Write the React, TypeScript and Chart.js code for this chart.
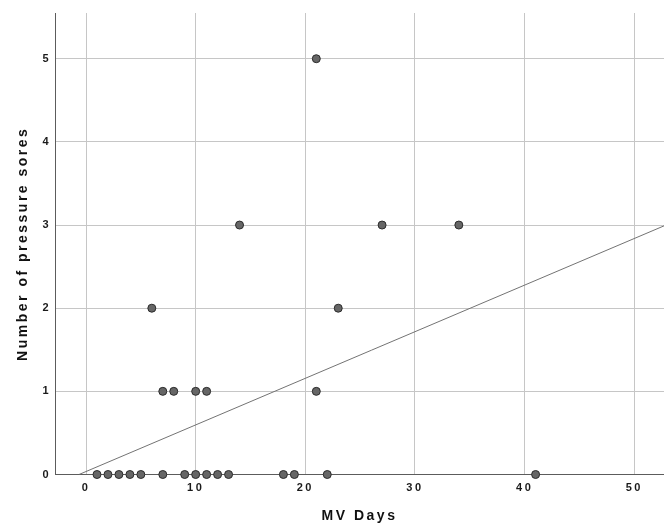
import React, { useEffect, useRef } from "react";
import { Chart, registerables } from "chart.js";

Chart.register(...registerables);

// MV days for each patient and their number of pressure sores
const mvDays = [1, 2, 3, 4, 5, 7, 9, 10, 11, 12, 13, 18, 19, 22, 41, 7, 8, 10, 11, 21, 6, 23, 14, 27, 34, 21];
const pressureSores = [0, 0, 0, 0, 0, 0, 0, 0, 0, 0, 0, 0, 0, 0, 0, 1, 1, 1, 1, 1, 2, 2, 3, 3, 3, 5];

// Fit line end points
const fitLineDays = [-0.64, 52.71];
const fitLineSores = [0, 2.99];

const xTicks = [0, 10, 20, 30, 40, 50];
const yTicks = [0, 1, 2, 3, 4, 5];

const X_MIN = -2.83;
const X_MAX = 52.71;
const Y_MIN = 0;
const Y_MAX = 5.55;

const FONT = '"Liberation Sans", Arial, Helvetica, sans-serif';

const spacingPlugin = {
  id: "letterSpacing",
  beforeDraw(chart: any) {
    (chart.ctx as any).letterSpacing = "2.5px";
  },
};

export default function App() {
  const canvasRef = useRef<HTMLCanvasElement | null>(null);

  useEffect(() => {
    document.body.style.margin = "0";
    const canvas = canvasRef.current;
    if (!canvas) return;

    const points = mvDays.map((d, i) => ({ x: d, y: pressureSores[i] }));
    const fit = fitLineDays.map((d, i) => ({ x: d, y: fitLineSores[i] }));

    const chart = new Chart(canvas, {
      type: "scatter",
      data: {
        datasets: [
          {
            label: "Patients",
            data: points,
            pointRadius: 4,
            pointHoverRadius: 4,
            pointBackgroundColor: "#666666",
            pointBorderColor: "#2b2b2b",
            pointBorderWidth: 1,
            showLine: false,
            clip: false as any,
          },
          {
            label: "Fit",
            data: fit,
            showLine: true,
            pointRadius: 0,
            borderColor: "#737373",
            borderWidth: 1,
            fill: false,
          },
        ],
      },
      plugins: [spacingPlugin],
      options: {
        animation: false,
        responsive: false,
        maintainAspectRatio: false,
        devicePixelRatio: 1,
        layout: { autoPadding: false, padding: { top: 13, left: 0, right: 0, bottom: 0 } },
        plugins: {
          legend: { display: false },
          tooltip: { enabled: false },
        },
        scales: {
          x: {
            type: "linear",
            min: X_MIN,
            max: X_MAX,
            afterBuildTicks: (s: any) => {
              s.ticks = xTicks.map((v) => ({ value: v }));
            },
            afterFit: (s: any) => {
              s.height = 48.5;
              s.paddingLeft = 0;
              s.paddingRight = 0;
            },
            grid: { color: "#c6c6c6", drawTicks: false, lineWidth: 1 },
            border: { display: true, color: "#5c5c5c", width: 1 },
            ticks: {
              padding: 7,
              color: "#1a1a1a",
              font: { family: FONT, size: 11, weight: "bold" },
              maxRotation: 0,
            },
            title: {
              display: true,
              text: "MV Days",
              color: "#111",
              font: { family: FONT, size: 14, weight: "bold" },
              padding: { top: 0, bottom: -2 },
            },
          },
          y: {
            type: "linear",
            min: Y_MIN,
            max: Y_MAX,
            afterBuildTicks: (s: any) => {
              s.ticks = yTicks.map((v) => ({ value: v }));
            },
            afterFit: (s: any) => {
              s.width = 55;
              s.paddingTop = 0;
              s.paddingBottom = 0;
            },
            grid: { color: "#c6c6c6", drawTicks: false, lineWidth: 1 },
            border: { display: true, color: "#5c5c5c", width: 1 },
            ticks: {
              padding: 4,
              color: "#1a1a1a",
              font: { family: FONT, size: 11, weight: "bold" },
            },
            title: {
              display: true,
              text: "Number of pressure sores",
              color: "#111",
              font: { family: FONT, size: 14, weight: "bold" },
              padding: { top: 15, bottom: 0 },
            },
          },
        },
      },
    });

    return () => {
      chart.destroy();
    };
  }, []);

  return (
    <div style={{ position: "absolute", left: 0, top: 0, width: 664, height: 523, background: "#fff" }}>
      <canvas ref={canvasRef} width={664} height={523} style={{ display: "block", width: 664, height: 523 }} />
    </div>
  );
}
